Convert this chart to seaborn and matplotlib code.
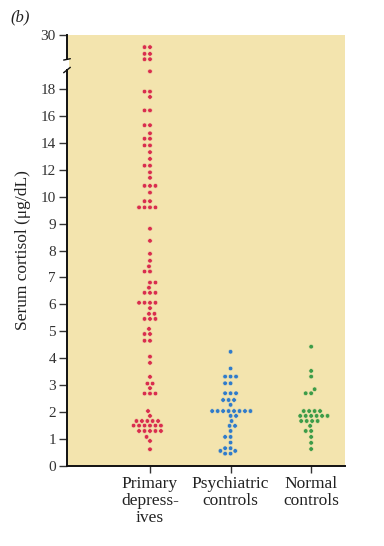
import numpy as np
import pandas as pd
import matplotlib
matplotlib.use("Agg")
import matplotlib.pyplot as plt
import matplotlib.transforms as mtransforms
import seaborn as sns

# ---------------- data ----------------
groups = ["Primary\ndepress-\nives", "Psychiatric\ncontrols", "Normal\ncontrols"]

primary_depressives = [
    25.5, 25.5, 23.0, 23.0, 21.0, 21.0, 19.3, 17.8, 17.8, 17.4,
    16.4, 16.4, 15.3, 15.3, 14.7, 14.3, 14.3, 13.8, 13.8, 13.3,
    12.8, 12.3, 12.3, 11.8, 11.4, 10.8, 10.8, 10.8, 10.3, 9.83,
    9.83, 9.6, 9.6, 9.6, 9.6, 8.81, 8.36, 7.88, 7.62, 7.41,
    7.22, 7.22, 6.81, 6.81, 6.62, 6.43, 6.43, 6.43, 6.06, 6.06,
    6.06, 6.06, 5.86, 5.65, 5.65, 5.46, 5.46, 5.46, 5.09, 4.9,
    4.9, 4.65, 4.65, 4.06, 3.83, 3.31, 3.06, 3.06, 2.89, 2.69,
    2.69, 2.69, 2.04, 1.86, 1.67, 1.67, 1.67, 1.67, 1.67, 1.5,
    1.5, 1.5, 1.5, 1.5, 1.5, 1.3, 1.3, 1.3, 1.3, 1.3,
    1.08, 0.93, 0.62,
]
psychiatric_controls = [
    4.24, 3.62, 3.32, 3.32, 3.32, 3.07, 3.07, 2.7, 2.7, 2.7,
    2.45, 2.45, 2.45, 2.27, 2.04, 2.04, 2.04, 2.04, 2.04, 2.04,
    2.04, 2.04, 1.86, 1.86, 1.67, 1.49, 1.49, 1.3, 1.08, 1.08,
    0.87, 0.66, 0.66, 0.56, 0.56, 0.46, 0.46,
]
normal_controls = [
    4.43, 3.53, 3.32, 2.85, 2.7, 2.7, 2.04, 2.04, 2.04, 2.04,
    1.86, 1.86, 1.86, 1.86, 1.86, 1.86, 1.67, 1.67, 1.67, 1.67,
    1.49, 1.3, 1.3, 1.08, 0.86, 0.63,
]

ytick_values = [0, 1, 2, 3, 4, 5, 6, 7, 8, 9, 10, 12, 14, 16, 18, 30]
ytick_labels = [str(v) for v in ytick_values]

colors = ["#d92d4e", "#2f7bcb", "#3c9c48"]
bg = "#f3e4ae"

df = pd.DataFrame({
    "group": [groups[0]] * len(primary_depressives)
    + [groups[1]] * len(psychiatric_controls)
    + [groups[2]] * len(normal_controls),
    "cortisol": primary_depressives + psychiatric_controls + normal_controls,
})

# ---------------- piecewise (broken) y scale ----------------
def fwd(v):
    v = np.asarray(v, dtype=float)
    return np.where(v <= 10, v, np.where(v <= 20, 10 + (v - 10) * 0.5, 15 + (v - 20) * 0.1))

def inv(p):
    p = np.asarray(p, dtype=float)
    return np.where(p <= 10, p, np.where(p <= 15, 10 + (p - 10) * 2, 20 + (p - 15) * 10))

# ---------------- figure ----------------
sns.set_theme(style="white")
plt.rcParams["font.family"] = ["Liberation Serif", "DejaVu Serif"]

fig = plt.figure(figsize=(3.84, 5.46), dpi=100)
ax = fig.add_axes([67 / 384, 80 / 546, 278 / 384, 431 / 546])
ax.set_facecolor(bg)

ax.set_yscale("function", functions=(fwd, inv))

sns.swarmplot(
    data=df, x="group", y="cortisol", hue="group", order=groups,
    hue_order=groups, palette=colors, size=3.3, linewidth=0.45,
    edgecolor=bg, legend=False, ax=ax,
)

ax.set_ylim(0, 30)
ax.set_xlim(-1.03, 2.42)
ax.set_yticks(ytick_values)
ax.set_yticklabels(ytick_labels)
ax.yaxis.set_minor_locator(matplotlib.ticker.NullLocator())

for s in ["top", "right"]:
    ax.spines[s].set_visible(False)
for s in ["left", "bottom"]:
    ax.spines[s].set_color("#111111")
    ax.spines[s].set_linewidth(1.4)

ax.tick_params(axis="y", which="major", left=True, length=6, width=1,
               color="#333333", labelsize=11, labelcolor="#333333", pad=2)
ax.tick_params(axis="x", which="major", bottom=True, length=5, width=1,
               color="#333333", labelsize=12.5, labelcolor="#222222", pad=2)
for lab in ax.get_xticklabels():
    lab.set_multialignment("center")
    lab.set_linespacing(1.08)

ax.set_xlabel("")
ax.set_ylabel("Serum cortisol (μg/dL)", fontsize=12.5, color="#222222", labelpad=7)

# axis break marker on the left spine
trans = mtransforms.blended_transform_factory(ax.transAxes, ax.transData)
ax.plot([0, 0], [19.45, 20.9], transform=trans, color="white", lw=3,
        clip_on=False, zorder=5, solid_capstyle="butt")
ax.plot([-0.012, 0.012], [19.2, 19.6], transform=trans, color="#111111",
        lw=1, clip_on=False, zorder=6)
ax.plot([-0.012, 0.012], [20.7, 21.2], transform=trans, color="#111111",
        lw=1, clip_on=False, zorder=6)

fig.text(0.028, 0.968, "(b)", fontsize=12, style="italic", color="#222222",
         ha="left", va="center")

fig.savefig("out.png", dpi=100, facecolor="white")
